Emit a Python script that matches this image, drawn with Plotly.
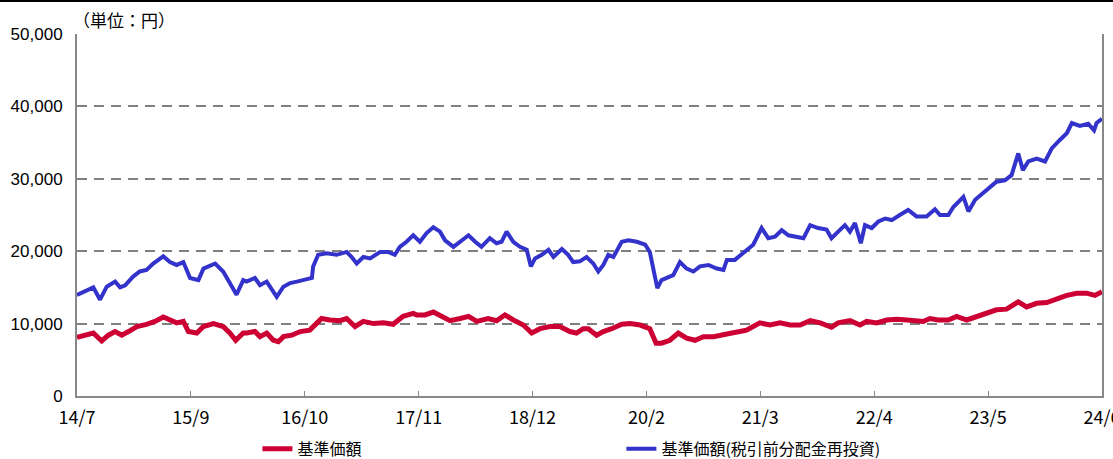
import plotly.graph_objects as go

# trading-day index positions (0 = 2014/7, 2448 = 2024/6)
tick_vals = [0, 272, 544, 816, 1088, 1360, 1632, 1904, 2176, 2448]
tick_text = ["14/7", "15/9", "16/10", "17/11", "18/12", "20/2", "21/3", "22/4", "23/5", "24/6"]

blue_x = [0, 19, 39, 55, 71, 91, 103, 115, 134, 150, 166, 182, 206, 222, 238, 254, 270, 290, 302, 330,
          349, 365, 381, 397, 405, 425, 437, 453, 469, 477, 493, 509, 525, 545, 561, 564, 576, 596, 620, 644,
          656, 668, 684, 700, 724, 743, 759, 771, 787, 803, 819, 835, 851, 867, 879, 899, 915, 935, 951, 966,
          986, 1002, 1014, 1026, 1042, 1058, 1074, 1084, 1094, 1110, 1126, 1138, 1158, 1173, 1185, 1201, 1217,
          1233, 1245, 1257, 1269, 1281, 1301, 1317, 1337, 1357, 1368, 1376, 1386, 1396, 1408, 1424, 1440, 1456,
          1472, 1488, 1508, 1528, 1544, 1552, 1571, 1591, 1603, 1615, 1635, 1651, 1667, 1683, 1699, 1719, 1735,
          1751, 1770, 1790, 1802, 1818, 1834, 1846, 1858, 1872, 1882, 1898, 1914, 1930, 1946, 1965, 1985, 2005,
          2021, 2029, 2049, 2061, 2081, 2093, 2117, 2129, 2145, 2164, 2180, 2196, 2216, 2232, 2248, 2259, 2272,
          2292, 2312, 2328, 2348, 2364, 2376, 2395, 2415, 2429, 2435, 2448]
blue_y = [13950, 14400, 15000, 13300, 15100, 15800, 15000, 15300, 16500, 17200, 17400, 18300, 19300, 18500,
          18100, 18500, 16300, 16000, 17600, 18300, 17200, 15600, 14000, 16000, 15800, 16300, 15300, 15800,
          14400, 13700, 15100, 15600, 15800, 16000, 16300, 17900, 19500, 19700, 19500, 19900, 19200, 18300,
          19200, 19000, 19900, 19900, 19500, 20600, 21300, 22200, 21300, 22500, 23300, 22700, 21500, 20600,
          21300, 22200, 21300, 20600, 21800, 21100, 21300, 22700, 21300, 20600, 20200, 17900, 19000, 19500,
          20200, 19200, 20300, 19500, 18500, 18600, 19200, 18300, 17200, 18100, 19500, 19200, 21300, 21500,
          21300, 20900, 19900, 17900, 14900, 16000, 16300, 16700, 18500, 17600, 17200, 17900, 18100, 17600,
          17400, 18800, 18800, 19700, 20400, 20900, 23200, 21800, 22000, 22900, 22200, 22000, 21800, 23600,
          23200, 23000, 21800, 22700, 23600, 22700, 23900, 21100, 23600, 23200, 24100, 24500, 24300, 25000,
          25700, 24800, 24800, 24800, 25800, 25000, 25000, 26100, 27500, 25500, 27100, 28000, 28900, 29600,
          29800, 30500, 33500, 31200, 32400, 32800, 32400, 34200, 35400, 36300, 37700, 37300, 37600, 36700,
          37700, 38300]

red_x = [0, 23, 39, 59, 75, 91, 107, 123, 143, 166, 186, 206, 222, 238, 254, 266, 286, 302, 326, 349,
         365, 379, 397, 405, 425, 437, 453, 469, 481, 493, 513, 533, 556, 568, 584, 604, 628, 644, 664, 684,
         708, 732, 755, 779, 803, 811, 831, 851, 871, 891, 915, 935, 955, 982, 1002, 1022, 1042, 1066, 1086,
         1106, 1130, 1153, 1177, 1193, 1209, 1221, 1241, 1257, 1277, 1301, 1321, 1345, 1368, 1383, 1396, 1416,
         1436, 1456, 1476, 1496, 1520, 1544, 1564, 1583, 1599, 1615, 1631, 1655, 1679, 1703, 1727, 1751, 1775,
         1802, 1818, 1846, 1870, 1886, 1910, 1934, 1958, 1982, 2005, 2021, 2037, 2057, 2081, 2101, 2125, 2149,
         2173, 2196, 2220, 2248, 2268, 2292, 2316, 2340, 2364, 2388, 2411, 2431, 2448]
red_y = [8100, 8400, 8700, 7600, 8400, 8900, 8400, 8900, 9600, 9900, 10300, 10900, 10500, 10100, 10300,
         8900, 8700, 9600, 10000, 9600, 8700, 7700, 8700, 8700, 8900, 8200, 8700, 7700, 7500, 8200, 8400, 8900,
         9100, 9800, 10700, 10500, 10400, 10700, 9600, 10300, 10000, 10100, 9900, 11000, 11400, 11200, 11200,
         11600, 11000, 10400, 10700, 11000, 10300, 10700, 10400, 11200, 10500, 9800, 8700, 9300, 9600, 9600,
         8900, 8700, 9300, 9300, 8400, 8900, 9300, 9900, 10000, 9800, 9300, 7300, 7300, 7700, 8700, 8000, 7700,
         8200, 8200, 8400, 8700, 8900, 9100, 9600, 10100, 9800, 10100, 9800, 9800, 10400, 10100, 9500, 10100,
         10400, 9800, 10300, 10100, 10500, 10600, 10500, 10300, 10300, 10700, 10500, 10500, 11000, 10500,
         11000, 11600, 11900, 12000, 13000, 12300, 12800, 12900, 13400, 13900, 14200, 14200, 13900, 14400]

y_ticks = [0, 10000, 20000, 30000, 40000, 50000]
series_names = ["基準価額", "基準価額(税引前分配金再投資)"]

fig = go.Figure()
fig.add_trace(go.Scatter(x=red_x, y=red_y, mode="lines", name=series_names[0],
                         line=dict(color="#CC0033", width=5)))
fig.add_trace(go.Scatter(x=blue_x, y=blue_y, mode="lines", name=series_names[1],
                         line=dict(color="#3333CC", width=4)))

fig.update_layout(
    width=1113, height=459,
    margin=dict(l=77, r=11, t=34, b=63, autoexpand=False),
    paper_bgcolor="white", plot_bgcolor="white",
    showlegend=True,
    legend=dict(orientation="h", x=0.176, y=-0.146, xanchor="left", yanchor="middle",
                font=dict(family="Noto Sans CJK JP", size=16, color="#000000"),
                entrywidth=319, entrywidthmode="pixels", bgcolor="rgba(0,0,0,0)",
                itemwidth=30),
    xaxis=dict(range=[0, 2448], tickmode="array", tickvals=tick_vals, ticktext=tick_text,
               showgrid=False, zeroline=False, showline=True, linecolor="#888888", linewidth=2,
               ticks="inside", ticklen=5, tickcolor="#888888", tickwidth=1, automargin=False,
               ticklabeloverflow="allow", ticklabelstandoff=4,
               tickfont=dict(family="Noto Sans CJK JP", size=18, color="#000000")),
    yaxis=dict(range=[0, 50000], tickmode="array", tickvals=y_ticks, automargin=False,
               tickformat=",d", showgrid=True, gridcolor="#808080", gridwidth=2,
               griddash="10px,7px", zeroline=False, showline=True, linecolor="#888888",
               linewidth=2, mirror=True, ticks="", ticklabelstandoff=9,
               tickfont=dict(family="Liberation Sans", size=17, color="#000000")),
    annotations=[dict(text="（単位：円）", xref="paper", yref="paper", x=-0.006, y=1 + 14 / 362,
                      xanchor="left", yanchor="middle", showarrow=False,
                      font=dict(family="Noto Sans CJK JP", size=17, color="#000000"))],
    shapes=[dict(type="line", xref="paper", yref="paper", x0=-77 / 1025, x1=1 + 11 / 1025,
                 y0=1 + 33 / 362, y1=1 + 33 / 362, line=dict(color="#000000", width=2))],
)

fig.write_html("out.html", config={"displayModeBar": False},
               post_script="document.body.style.margin='0';document.body.style.padding='0';"
                           "document.documentElement.style.overflow='hidden';")
